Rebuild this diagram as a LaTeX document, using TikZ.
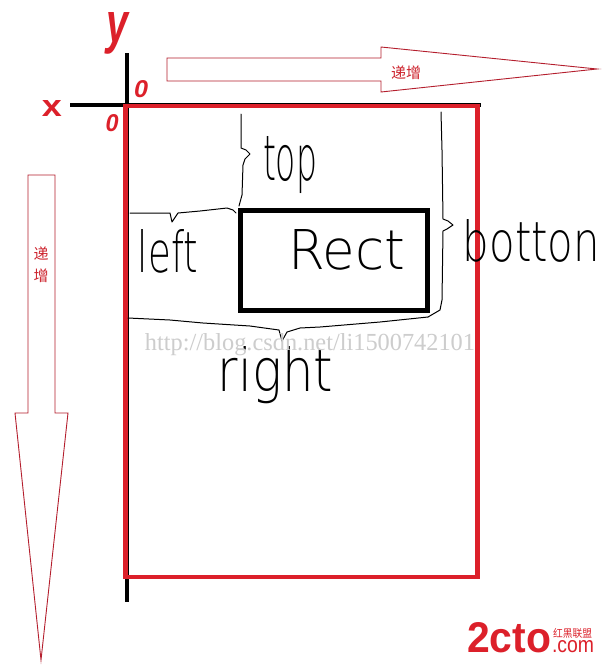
\documentclass[tikz,border=0pt]{standalone}
\usepackage{fontspec}
\setmainfont{Liberation Sans}
\newfontfamily\cjk{Noto Sans CJK SC}
\newfontfamily\wmfont{Liberation Serif}
\newfontfamily\thin{DejaVu Sans ExtraLight}
\definecolor{axisred}{RGB}{220,32,42}
\definecolor{arrred}{RGB}{180,30,45}
\definecolor{txtred}{RGB}{205,35,45}
\definecolor{wmgray}{RGB}{205,205,205}
\tikzset{
  lbl/.style={inner sep=0pt, outer sep=0pt, anchor=center},
  hand/.style={black, line width=1pt, line join=round, line cap=round},
  bigarrow/.style={draw=arrred, line width=0.9pt, fill=white},
  axisline/.style={black, line width=4pt},
}
\newcommand{\fitbox}[3]{\resizebox{#1pt}{#2pt}{#3}}
\begin{document}
\begin{tikzpicture}[x=1pt,y=-1pt]
\useasboundingbox (0,0) rectangle (602,667);
\fill[white] (0,0) rectangle (602,667);

% axes
\coordinate (xa) at (70,105);
\coordinate (xb) at (481,105);
\coordinate (ya) at (127,53);
\coordinate (yb) at (127,602);
\draw[axisline] (xa) -- (xb);
\draw[axisline] (ya) -- (yb);

% red canvas rectangle
\draw[axisred, line width=4.5pt] (125.5,106) rectangle (477.5,577);

% axis labels
\node[lbl, text=axisred] (ylab) at (118,33) {\fitbox{22}{30}{\bfseries\itshape y}};
\node[lbl, text=axisred] (xlab) at (52,108) {\fitbox{20}{16}{\bfseries x}};
\node[lbl, text=axisred] (o1) at (141,89) {\fitbox{14}{17}{\bfseries\itshape 0}};
\node[lbl, text=axisred] (o2) at (112,123) {\fitbox{13}{17}{\bfseries\itshape 0}};

% top arrow
\draw[bigarrow] (167,58) -- (381,58) -- (381,47) -- (597,69) -- (381,92) -- (381,81) -- (167,81) -- cycle;
\node[lbl, text=txtred, font=\cjk\fontsize{15}{15}\selectfont] (inc1) at (406,73) {递增};

% left arrow
\draw[bigarrow] (28,175) -- (55,175) -- (55,413) -- (68,413) -- (41,660) -- (15,413) -- (28,413) -- cycle;
\node[lbl, text=txtred, font=\cjk\fontsize{15}{15}\selectfont, align=center] (inc2) at (41,265) {递\\[7pt]增};

% Rect
\draw[black, line width=5pt] (240.5,210.5) rectangle (427.5,310);
\node[lbl] (rect) at (346.5,250) {\fitbox{117}{40}{\thin Rect}};

% braces
\draw[hand] (241,114) -- (241,148) -- (246,150) -- (250,154) -- (245,159) -- (243,165) -- (242,195) -- (239,206);
\draw[hand] (441,112) -- (442,150) -- (443,219) -- (448,221) -- (453,225) -- (447,229) -- (443,231) -- (442,300) -- (440,310) -- (428,317);
\draw[hand] (130,213) -- (150,213) -- (170,213) -- (172,222) -- (178,213) -- (200,211) -- (227,208) -- (233,210) -- (236,213);
\draw[hand] (128,318) -- (170,320) -- (203,323) -- (250,326) -- (279,330) -- (282,341) -- (287,332) -- (300,328) -- (320,327) -- (380,322) -- (428,317);

% labels
\node[lbl] (top) at (290,165) {\fitbox{54}{44}{\thin top}};
\node[lbl] (left) at (168,251.5) {\fitbox{60}{43}{\thin left}};
\node[lbl] (botton) at (531.5,241) {\fitbox{137}{42}{\thin botton}};
\node[lbl] (right) at (275.5,375.5) {\fitbox{115}{45}{\thin right}};

% watermark
\node[lbl, text=wmgray] (wm) at (310,345) {\fitbox{330}{17}{\wmfont http://blog.csdn.net/li1500742101}};

% logo
\node[lbl, text=axisred, anchor=south west] (logo) at (467,653) {\fitbox{84}{30}{\bfseries 2cto}};
\node[lbl, text=axisred, anchor=south west] (com) at (552,653) {\fitbox{42}{12}{.com}};
\node[lbl, text=axisred, anchor=south west] (hh) at (553,638) {\fitbox{39}{9}{\cjk 红黑联盟}};
\end{tikzpicture}
\end{document}
